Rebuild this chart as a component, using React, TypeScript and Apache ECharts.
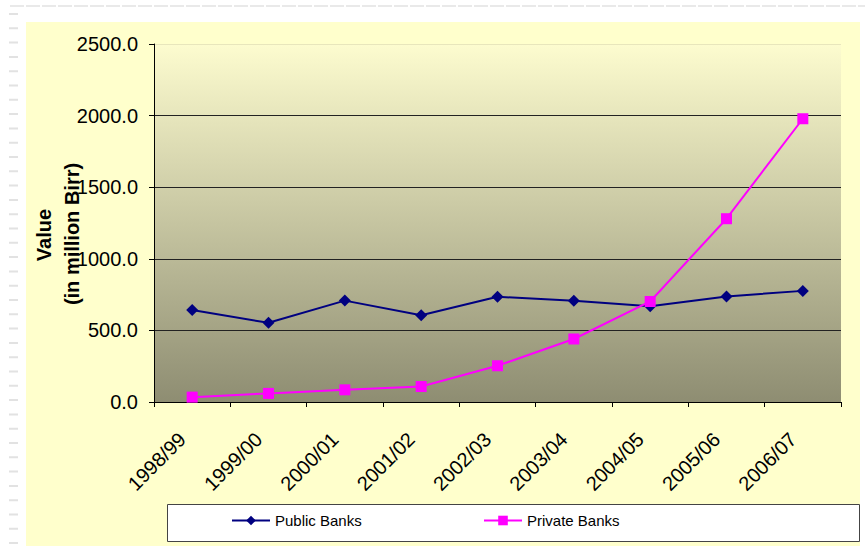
import React, { useEffect, useRef } from "react";
import * as echarts from "echarts";

const categories = ["1998/99", "1999/00", "2000/01", "2001/02", "2002/03", "2003/04", "2004/05", "2005/06", "2006/07"];
const publicBanks = [642, 553, 708, 606, 735, 707, 669, 737, 776];
const privateBanks = [34, 60, 85, 108, 253, 440, 702, 1280, 1978];
const yTicks = [0, 500, 1000, 1500, 2000, 2500];

export default function App() {
  const ref = useRef<HTMLDivElement>(null);
  useEffect(() => {
    document.body.style.margin = "0";
    const chart = echarts.init(ref.current!, null, { renderer: "svg" });
    const font = "Arial, 'Liberation Sans', sans-serif";
    chart.setOption({
      animation: false,
      backgroundColor: "#ffffff",
      textStyle: { fontFamily: font },
      grid: {
        left: 154,
        right: 24,
        top: 44,
        bottom: 144,
        show: true,
        borderWidth: 0,
        backgroundColor: {
          type: "linear",
          x: 0, y: 0, x2: 0, y2: 1,
          colorStops: [
            { offset: 0, color: "#FDFCCF" },
            { offset: 1, color: "#8E8D72" },
          ],
        },
      },
      xAxis: {
        type: "category",
        data: categories,
        boundaryGap: true,
        axisLine: { show: true, lineStyle: { color: "#000", width: 1 } },
        axisTick: { show: true, length: 5, lineStyle: { color: "#000" } },
        axisLabel: {
          rotate: 45,
          fontSize: 20,
          color: "#000",
          margin: 24,
          padding: [0, 14, 0, 0],
          fontFamily: font,
        },
        splitLine: { show: false },
      },
      yAxis: {
        type: "value",
        min: yTicks[0],
        max: yTicks[yTicks.length - 1],
        interval: 500,
        axisLine: { show: true, lineStyle: { color: "#000", width: 1 } },
        axisTick: { show: true, length: 5, lineStyle: { color: "#000" } },
        axisLabel: {
          fontSize: 20,
          color: "#000",
          margin: 16,
          fontFamily: font,
          formatter: (v: number) => v.toFixed(1),
        },
        splitLine: {
          show: true,
          lineStyle: { color: ["#000", "#222", "#222", "#222", "#222", "#E8E6BC"], width: 1 },
        },
      },
      legend: [
        {
          data: ["Public Banks"],
          left: 231,
          top: 513,
          padding: 0,
          itemWidth: 38,
          itemHeight: 12,
          itemGap: 6,
          textStyle: { fontSize: 15, color: "#000", fontFamily: font },
        },
        {
          data: ["Private Banks"],
          left: 483,
          top: 513,
          padding: 0,
          itemWidth: 38,
          itemHeight: 12,
          itemGap: 6,
          textStyle: { fontSize: 15, color: "#000", fontFamily: font },
        },
      ],
      graphic: [
        {
          type: "rect",
          z: -10,
          shape: { x: 26, y: 22, width: 834, height: 524 },
          style: { fill: "#FFFFCC" },
          silent: true,
        },
        {
          type: "line",
          z: -10,
          shape: { x1: 10, y1: 6, x2: 865, y2: 6 },
          style: { stroke: "#E2E2E2", lineWidth: 1.5, lineDash: [14, 2] },
          silent: true,
        },
        {
          type: "line",
          z: -10,
          shape: { x1: 13.5, y1: 13, x2: 13.5, y2: 546 },
          style: { stroke: "#E2E2E2", lineWidth: 9, lineDash: [2, 12.3] },
          silent: true,
        },
        {
          type: "rect",
          z: 1,
          shape: { x: 167.5, y: 504.5, width: 692, height: 37 },
          style: { fill: "#ffffff", stroke: "#444", lineWidth: 1 },
          silent: true,
        },
        {
          type: "text",
          z: 1,
          x: 44,
          y: 235,
          rotation: Math.PI / 2,
          style: {
            text: "Value",
            font: `bold 20px ${font}`,
            fill: "#000",
            textAlign: "center",
            textVerticalAlign: "middle",
          },
        },
        {
          type: "text",
          z: 1,
          x: 72,
          y: 234,
          rotation: Math.PI / 2,
          style: {
            text: "(in million Birr)",
            font: `bold 20px ${font}`,
            fill: "#000",
            textAlign: "center",
            textVerticalAlign: "middle",
          },
        },
      ],
      series: [
        {
          name: "Public Banks",
          type: "line",
          data: publicBanks,
          symbol: "diamond",
          symbolSize: 12,
          showAllSymbol: true,
          lineStyle: { color: "#000080", width: 2 },
          itemStyle: { color: "#000080" },
          z: 3,
        },
        {
          name: "Private Banks",
          type: "line",
          data: privateBanks,
          symbol: "rect",
          symbolSize: 11,
          showAllSymbol: true,
          lineStyle: { color: "#FF00FF", width: 2 },
          itemStyle: { color: "#FF00FF" },
          z: 4,
        },
      ],
    });
    return () => chart.dispose();
  }, []);
  return <div ref={ref} style={{ position: "absolute", left: 0, top: 0, width: 865, height: 546 }} />;
}
